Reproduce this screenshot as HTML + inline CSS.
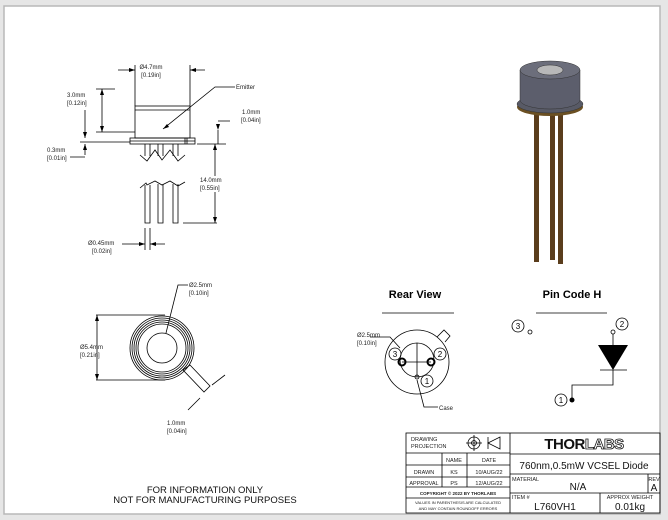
<!DOCTYPE html>
<html><head><meta charset="utf-8"><style>
html,body{margin:0;padding:0;background:#e6e6e6;}
svg{display:block;font-family:"Liberation Sans",sans-serif;}
</style></head><body>
<svg width="668" height="520" viewBox="0 0 668 520" xmlns="http://www.w3.org/2000/svg">
<rect x="0" y="0" width="668" height="520" fill="#e6e6e6"/>
<rect x="4" y="6" width="656" height="508" fill="#fff" stroke="#b8b8b8" stroke-width="1.5"/>
<g stroke="#000" stroke-width="0.8" fill="none">
<rect x="135" y="106" width="55" height="32"/>
<line x1="135" y1="110" x2="190" y2="110"/>
<rect x="130" y="138" width="65" height="6"/>
<line x1="130" y1="141" x2="195" y2="141"/>
<line x1="185" y1="138" x2="185" y2="144"/><line x1="187" y1="138" x2="187" y2="144"/>
<path d="M145 144V156M150 144V156M158 144V156M163 144V156M173 144V156M178 144V156"/>
<path d="M140 155L147 161L155 150L162 160L170 150L178 161L185 155"/>
<path d="M140 188L146 183L147 185L155 181L162 185L170 181L178 186L185 182"/>
<path d="M145 185V223H150V185M158 184V223H163V184M173 184V223H178V184"/>
<path d="M135 106V65M190 106V65M118 70H135M190 70H205"/>
<path d="M102 89V132M96 132H135M96 89H115"/>
<path d="M85 110V138M85 144V155M80 142H130M70 157H85"/>
<path d="M197 144H226M215 144V223M183 223H217M218 130V144M218 121H230"/>
<path d="M163 129L215 87H235"/>
<path d="M145 228V250M150 228V250M122 244H145M150 244H165"/>
<circle cx="162" cy="348" r="32"/><circle cx="162" cy="348" r="30"/><circle cx="162" cy="348" r="28"/><circle cx="162" cy="348" r="26"/><circle cx="162" cy="348" r="24"/>
<circle cx="162" cy="348" r="15"/>
<path d="M183 370L190 365L210 386L204 392Z"/>
<path d="M96 315H165M96 380H165M97 315V380"/>
<path d="M166 333L178 285H188"/>
<path d="M212 385L225 375M200 398L188 410"/>
<line x1="382" y1="313" x2="454" y2="313"/>
<circle cx="417" cy="362" r="32"/>
<path d="M437 337L444 330L450 336L445 342"/>
<circle cx="417" cy="360" r="17"/>
<path d="M402 362H431M417 343V377"/>
<circle cx="402" cy="362" r="3.5" stroke-width="2"/><circle cx="431" cy="362" r="3.5" stroke-width="2"/><circle cx="417" cy="377" r="2"/>
<path d="M370 337H390L400 348"/>
<path d="M417 380L424 407H438"/>
<circle cx="395" cy="354" r="6"/><circle cx="440" cy="354" r="6"/><circle cx="427" cy="381" r="6"/>
<line x1="536" y1="313" x2="607" y2="313"/>
<circle cx="518" cy="326" r="6"/><circle cx="530" cy="332" r="2"/>
<circle cx="622" cy="324" r="6"/><circle cx="613" cy="332" r="2"/>
<path d="M613 334V345M613 370V385H572V400M600 370H627"/>
<circle cx="561" cy="400" r="6"/>
<rect x="406" y="433" width="254" height="80"/>
<path d="M510 433V513M406 453H510M406 465H510M406 477H510M406 487H510M406 498H510M442 453V487M467 453V487M510 454H660M510 474H660M510 493H660M648 474V493M600 493V513"/>
<circle cx="474" cy="443" r="6"/><circle cx="474" cy="443" r="2.5"/><path d="M466 443H482M474 435V451"/>
<path d="M488 443L500 437V449ZM488 437V449"/>
</g>
<g fill="#000">
<path d="M135 70l-6 -2v4zM190 70l6 -2v4zM102 89l-2 6h4zM102 132l-2 -6h4zM85 138l-2 -6h4zM85 144l-2 6h4zM215 144l-2 6h4zM215 223l-2 -6h4zM218 130l-2 -6h4zM145 244l-6 -2v4zM150 244l6 -2v4zM97 315l-2 6h4zM97 380l-2 -6h4zM163 129l4 -5l2 3z"/>
</g>
<rect x="199" y="176" width="28" height="16" fill="#fff"/>
<path d="M598 345H628L613 370Z" fill="#000"/>
<circle cx="572" cy="400" r="2.5" fill="#000"/>
<g>
<rect x="534" y="112" width="5" height="150" fill="#5a3d1c"/>
<rect x="550" y="112" width="5" height="148" fill="#5a3d1c"/>
<rect x="558" y="114" width="5" height="150" fill="#5a3d1c"/>
<ellipse cx="550" cy="107" rx="33" ry="9" fill="#6b5023"/>
<ellipse cx="550" cy="104" rx="33" ry="9" fill="#585a66" stroke="#333" stroke-width="0.5"/>
<path d="M520 70V100A30 9 0 0 0 580 100V70Z" fill="#5c5e6c" stroke="#333" stroke-width="0.5"/>
<ellipse cx="550" cy="70" rx="30" ry="9" fill="#6c6e7b" stroke="#333" stroke-width="0.5"/>
<ellipse cx="550" cy="70" rx="13" ry="5" fill="#b8b8b8" stroke="#333" stroke-width="0.5"/>
</g>
<g fill="#222" font-size="6">
<text x="151" y="69" text-anchor="middle">Ø4.7mm</text><text x="151" y="77" text-anchor="middle">[0.19in]</text>
<text x="67" y="97">3.0mm</text><text x="67" y="105">[0.12in]</text>
<text x="236" y="89">Emitter</text>
<text x="242" y="114">1.0mm</text><text x="241" y="122">[0.04in]</text>
<text x="47" y="152">0.3mm</text><text x="47" y="160">[0.01in]</text>
<text x="200" y="182">14.0mm</text><text x="200" y="190">[0.55in]</text>
<text x="88" y="245">Ø0.45mm</text><text x="92" y="253">[0.02in]</text>
<text x="189" y="287">Ø2.5mm</text><text x="189" y="295">[0.10in]</text>
<text x="80" y="349">Ø5.4mm</text><text x="80" y="357">[0.21in]</text>
<text x="167" y="425">1.0mm</text><text x="167" y="433">[0.04in]</text>
<text x="357" y="337">Ø2.5mm</text><text x="357" y="345">[0.10in]</text>
<text x="439" y="410">Case</text>
</g>
<g fill="#000" font-size="8" text-anchor="middle">
<text x="395" y="357">3</text><text x="440" y="357">2</text><text x="427" y="384">1</text>
<text x="518" y="329">3</text><text x="622" y="327">2</text><text x="561" y="403">1</text>
</g>
<g font-weight="bold" font-size="11" text-anchor="middle" fill="#000">
<text x="415" y="298">Rear View</text><text x="572" y="298">Pin Code H</text>
</g>
<g font-size="9.5" text-anchor="middle" fill="#111">
<text x="205" y="493">FOR INFORMATION ONLY</text>
<text x="205" y="503">NOT FOR MANUFACTURING PURPOSES</text>
</g>
<g font-size="5.5" fill="#222">
<text x="411" y="441">DRAWING</text><text x="411" y="448">PROJECTION</text>
<text x="454" y="462" text-anchor="middle">NAME</text><text x="489" y="462" text-anchor="middle">DATE</text>
<text x="424" y="474" text-anchor="middle">DRAWN</text><text x="454" y="474" text-anchor="middle">KS</text><text x="489" y="474" text-anchor="middle">10/AUG/22</text>
<text x="424" y="485" text-anchor="middle">APPROVAL</text><text x="454" y="485" text-anchor="middle">PS</text><text x="489" y="485" text-anchor="middle">12/AUG/22</text>
<text x="458" y="495" text-anchor="middle" font-size="4.5" font-weight="bold">COPYRIGHT © 2022 BY THORLABS</text>
<text x="458" y="504" text-anchor="middle" font-size="4">VALUES IN PARENTHESIS ARE CALCULATED</text>
<text x="458" y="510" text-anchor="middle" font-size="4">AND MAY CONTAIN ROUNDOFF ERRORS</text>
<text x="512" y="481">MATERIAL</text><text x="512" y="499">ITEM #</text>
<text x="654" y="481" text-anchor="middle">REV</text>
<text x="630" y="499" text-anchor="middle">APPROX WEIGHT</text>
</g>
<text x="584" y="449" font-size="15" font-weight="bold" text-anchor="middle" fill="#111" letter-spacing="-0.5">THOR<tspan fill="#fff" stroke="#111" stroke-width="0.8">LABS</tspan></text>
<g fill="#111" text-anchor="middle" font-size="10">
<text x="584" y="469">760nm,0.5mW VCSEL Diode</text>
<text x="578" y="490">N/A</text><text x="654" y="491">A</text>
<text x="555" y="510">L760VH1</text><text x="630" y="510">0.01kg</text>
</g>
</svg>
</body></html>
